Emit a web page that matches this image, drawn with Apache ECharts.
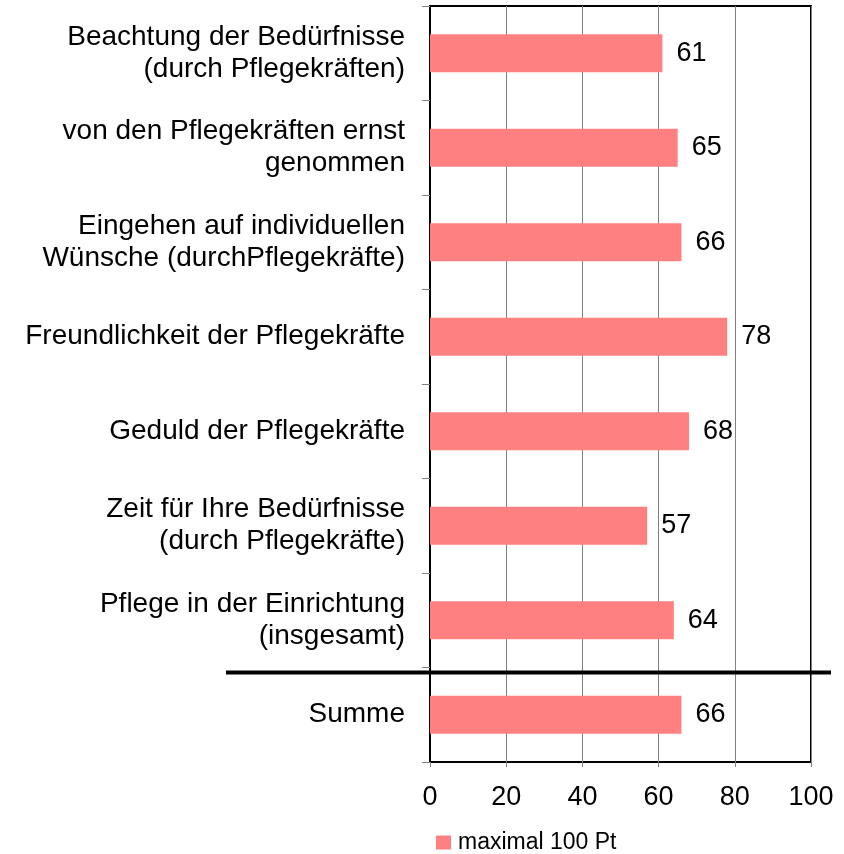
<!DOCTYPE html>
<html>
<head>
<meta charset="utf-8">
<script src="https://cdn.jsdelivr.net/npm/echarts@6/dist/echarts.min.js"></script>
<style>
  html, body { margin: 0; padding: 0; background: #fff; }
  #chart { width: 844px; height: 854px; }
</style>
</head>
<body>
<div id="chart"></div>
<script>
var categories = [
  'Beachtung der Bedürfnisse\n(durch Pflegekräften)',
  'von den Pflegekräften ernst\ngenommen',
  'Eingehen auf individuellen\nWünsche (durchPflegekräfte)',
  'Freundlichkeit der Pflegekräfte',
  'Geduld der Pflegekräfte',
  'Zeit für Ihre Bedürfnisse\n(durch Pflegekräfte)',
  'Pflege in der Einrichtung\n(insgesamt)',
  'Summe'
]
var values = [61, 65, 66, 78, 68, 57, 64, 66]
var seriesName = 'maximal 100 Pt'
var xTicks = [0, 20, 40, 60, 80, 100]

var font = '"Liberation Sans", Arial, sans-serif'
var chart = echarts.init(document.getElementById('chart'))

var option = {
  animation: false,
  textStyle: { fontFamily: font },
  grid: {
    left: 430, right: 33, top: 6, bottom: 92,
    show: true, borderColor: '#000', borderWidth: 2,
    containLabel: false
  },
  legend: {
    data: [seriesName],
    bottom: 0,
    left: 436,
    padding: 0,
    icon: 'rect',
    itemWidth: 15,
    itemHeight: 14,
    itemGap: 8,
    textStyle: { fontFamily: font, fontSize: 23, color: '#000', padding: [0, 0, 0, 2] }
  },
  xAxis: {
    type: 'value',
    min: xTicks[0],
    max: xTicks[xTicks.length - 1],
    interval: 20,
    axisLine: { show: false },
    axisTick: { show: true, length: 5, lineStyle: { color: '#808080' } },
    splitLine: { show: true, lineStyle: { color: '#808080', width: 1 } },
    axisLabel: { fontFamily: font, fontSize: 27, color: '#000', margin: 22 }
  },
  yAxis: {
    type: 'category',
    inverse: true,
    data: categories,
    axisLine: { show: true, lineStyle: { color: '#000', width: 2 } },
    axisTick: { show: true, length: 8, lineStyle: { color: '#808080' } },
    axisLabel: {
      fontFamily: font, fontSize: 28, color: '#000',
      lineHeight: 32, margin: 25, align: 'right'
    }
  },
  series: [{
    name: seriesName,
    type: 'bar',
    data: values,
    barWidth: '40%',
    itemStyle: { color: '#ff8080' },
    label: {
      show: true,
      position: 'right',
      distance: 14,
      fontFamily: font,
      fontSize: 27,
      color: '#000'
    }
  }]
}

chart.setOption(option)

// thick separator between the last item and "Summe"
var yA = chart.convertToPixel({ yAxisIndex: 0 }, categories[categories.length - 2])
var yB = chart.convertToPixel({ yAxisIndex: 0 }, categories[categories.length - 1])
var sepY = (yA + yB) / 2 + 5
chart.setOption({
  graphic: [{
    type: 'line',
    shape: { x1: 226, y1: sepY, x2: 831, y2: sepY },
    style: { stroke: '#000', lineWidth: 4 },
    z: 100
  }]
})
</script>
</body>
</html>
